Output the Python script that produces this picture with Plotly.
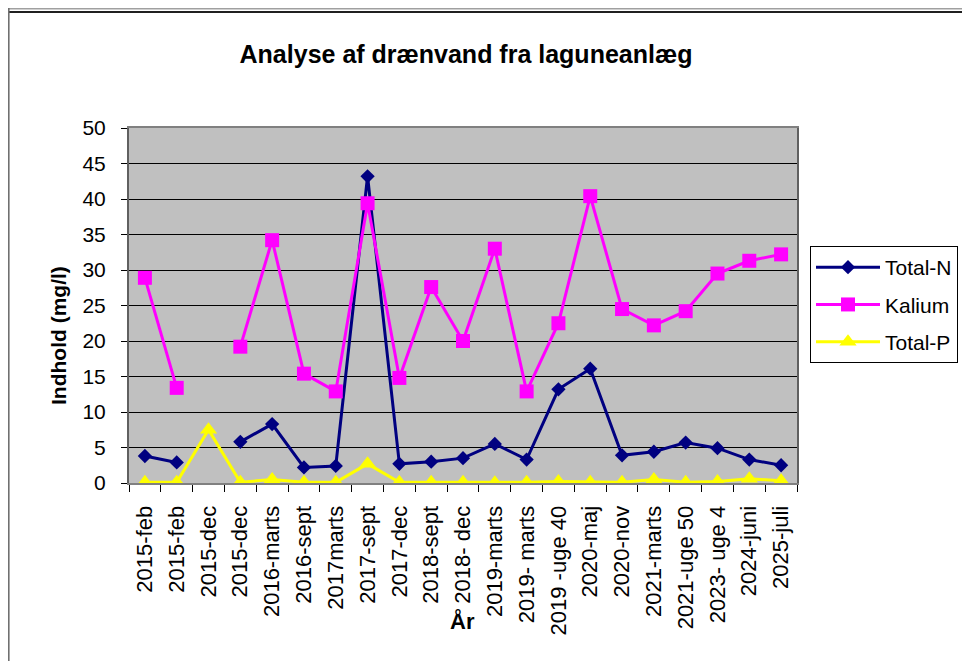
import plotly.graph_objects as go

categories = ["2015-feb", "2015-feb", "2015-dec", "2015-dec", "2016-marts", "2016-sept",
              "2017marts", "2017-sept", "2017-dec", "2018-sept", "2018- dec", "2019-marts",
              "2019- marts", "2019 -uge 40", "2020-maj", "2020-nov", "2021-marts",
              "2021-uge 50", "2023- uge 4", "2024-juni", "2025-juli"]
total_n = [3.8, 2.9, None, 5.8, 8.3, 2.2, 2.4, 43.2, 2.7, 3.0, 3.5, 5.5, 3.3, 13.2, 16.1,
           3.9, 4.4, 5.7, 4.9, 3.3, 2.5]
kalium = [28.9, 13.4, None, 19.2, 34.2, 15.4, 12.9, 39.4, 14.8, 27.6, 20.0, 33.0, 12.9,
          22.5, 40.4, 24.5, 22.2, 24.2, 29.5, 31.3, 32.2]
total_p = [0.1, 0.1, 7.5, 0.1, 0.5, 0.1, 0.1, 2.7, 0.1, 0.1, 0.1, 0.05, 0.1, 0.2, 0.1,
           0.1, 0.5, 0.1, 0.2, 0.6, 0.3]
y_ticks = [0, 5, 10, 15, 20, 25, 30, 35, 40, 45, 50]

# page body has an 8px margin; window coordinates below are converted accordingly
OFF = 8
WIN_W, WIN_H = 970, 661
W, H = WIN_W - OFF, WIN_H - OFF
L, R, T, B = 129, 797, 128, 483  # plot area in window pixels
FONT = "Arial, Liberation Sans, sans-serif"

def px(x):
    return (x - L) / (R - L)

def py(y):
    return (B - y) / (B - T)

xs = list(range(len(categories)))

fig = go.Figure()
fig.add_trace(go.Scatter(x=xs, y=total_n, name="Total-N", mode="lines+markers",
                         line=dict(color="#000080", width=3),
                         marker=dict(symbol="diamond", size=11, color="#000080"),
                         legendgroup="a", connectgaps=False))
fig.add_trace(go.Scatter(x=xs, y=kalium, name="Kalium", mode="lines+markers",
                         line=dict(color="#FF00FF", width=3),
                         marker=dict(symbol="square", size=14, color="#FF00FF"),
                         legendgroup="b", connectgaps=False))
fig.add_trace(go.Scatter(x=xs, y=total_p, name="Total-P", mode="lines+markers",
                         line=dict(color="#FFFF00", width=3),
                         marker=dict(symbol="triangle-up", size=15, color="#FFFF00"),
                         legendgroup="c"))

shapes = [
    dict(type="line", xref="paper", yref="paper", x0=px(OFF), x1=px(WIN_W + 5), y0=py(8.8), y1=py(8.8),
         line=dict(color="#A0A0A0", width=1.5)),
    dict(type="line", xref="paper", yref="paper", x0=px(OFF), x1=px(WIN_W + 5), y0=py(12), y1=py(12),
         line=dict(color="#202020", width=2)),
    dict(type="line", xref="paper", yref="paper", x0=px(OFF + 0.8), x1=px(OFF + 0.8), y0=py(OFF), y1=py(WIN_H + 5),
         line=dict(color="#707070", width=1.6)),
]

fig.update_layout(
    width=W, height=H,
    margin=dict(l=L - OFF, r=WIN_W - R, t=T - OFF, b=WIN_H - B, pad=0),
    paper_bgcolor="white", plot_bgcolor="#C0C0C0",
    font=dict(family=FONT, color="black", size=20),
    title=dict(text="<b>Analyse af drænvand fra laguneanlæg</b>", x=px(466), xref="paper",
               xanchor="center", y=1 - (54 - OFF) / H, yanchor="middle",
               font=dict(family=FONT, size=25, color="black")),
    xaxis=dict(range=[-0.5, len(categories) - 0.5], tickmode="array", tickvals=xs,
               ticktext=categories, tickangle=-90, ticks="", showgrid=False, zeroline=False,
               tickfont=dict(family=FONT, size=22, color="black"), ticklabelstandoff=12,
               showline=True, linecolor="#808080", linewidth=2, mirror=True,
               minor=dict(tickmode="array", tickvals=[i - 0.5 for i in range(len(categories) + 1)],
                          ticks="outside", ticklen=7, tickcolor="black", tickwidth=1, showgrid=False)),
    yaxis=dict(range=[0, 50], tickmode="array", tickvals=y_ticks, ticks="outside", ticklen=6,
               tickcolor="black", tickwidth=1, showgrid=True, gridcolor="black", gridwidth=1,
               zeroline=False, tickfont=dict(family=FONT, size=21, color="black"),
               ticklabelstandoff=11,
               showline=True, linecolor="#606060", linewidth=2, mirror=True),
    legend=dict(x=px(810), y=py(246), xanchor="left", yanchor="top", bgcolor="white",
                bordercolor="black", borderwidth=1, font=dict(family=FONT, size=21),
                traceorder="grouped", tracegroupgap=7, itemwidth=64),
    showlegend=True,
    shapes=shapes,
    annotations=[
        dict(text="<b>Indhold (mg/l)</b>", xref="paper", yref="paper", x=px(58), y=py(336),
             textangle=-90, showarrow=False, font=dict(family=FONT, size=21, color="black"),
             xanchor="center", yanchor="middle"),
        dict(text="<b>År</b>", xref="paper", yref="paper", x=px(462), y=py(621),
             showarrow=False, font=dict(family=FONT, size=22, color="black"),
             xanchor="center", yanchor="middle"),
    ],
)

fig.write_html("out.html")
